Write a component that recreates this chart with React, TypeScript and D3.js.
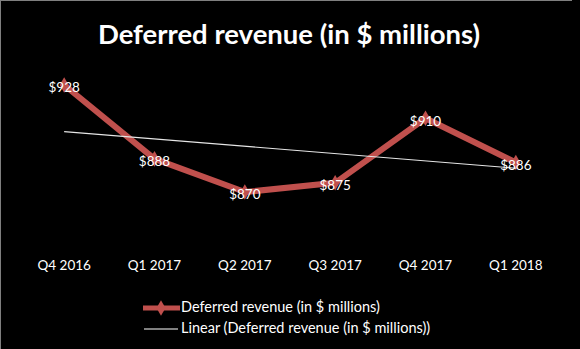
import React from "react";
import * as d3 from "d3";

const categories = ["Q4 2016", "Q1 2017", "Q2 2017", "Q3 2017", "Q4 2017", "Q1 2018"];
const values = [928, 888, 870, 875, 910, 886];
const labels = ["$928", "$888", "$870", "$875", "$910", "$886"];
const seriesName = "Deferred revenue (in $ millions)";
const trendName = "Linear (Deferred revenue (in $ millions))";
const title = "Deferred revenue (in $ millions)";

const W = 580;
const H = 349;
const FONT = "Lato, 'Open Sans', sans-serif";
const RED = "#C0504D";

export default function App() {
  const x = d3.scaleBand<string>().domain(categories).range([19, 561]);
  const y = d3.scaleLinear().domain([840, 940]).range([247.4, 62.9]);
  const cx = (c: string) => (x(c) as number) + x.bandwidth() / 2;

  const n = values.length;
  const xs = d3.range(n);
  const mx = d3.mean(xs) as number;
  const my = d3.mean(values) as number;
  const slope =
    d3.sum(xs.map((xi, i) => (xi - mx) * (values[i] - my))) /
    d3.sum(xs.map((xi) => (xi - mx) ** 2));
  const intercept = my - slope * mx;
  const trendPts: [number, number][] = [
    [cx(categories[0]), y(intercept)],
    [cx(categories[n - 1]), y(intercept + slope * (n - 1))],
  ];

  const line = d3
    .line<number>()
    .x((_, i) => cx(categories[i]))
    .y((d) => y(d));

  const diamond = d3.symbol(d3.symbolDiamond, 70)() as string;

  return (
    <svg
      width={W}
      height={H}
      style={{ position: "absolute", left: 0, top: 0, background: "#000" }}
    >
      <rect x={0} y={0} width={W} height={H} fill="#000" />
      <line x1={0.5} y1={0} x2={0.5} y2={H} stroke="#7f7f7f" />
      <line x1={0} y1={0.5} x2={572} y2={0.5} stroke="#7f7f7f" />
      <text
        x={289}
        y={44}
        textAnchor="middle"
        fill="#fff"
        fontFamily={FONT}
        fontWeight="bold"
        fontSize={27.5}
      >
        {title}
      </text>

      <path d={line(values) as string} fill="none" stroke={RED} strokeWidth={6} strokeLinejoin="round" />
      {values.map((v, i) => (
        <path key={i} d={diamond} transform={`translate(${cx(categories[i])},${y(v)})`} fill={RED} />
      ))}
      <line
        x1={trendPts[0][0]}
        y1={trendPts[0][1]}
        x2={trendPts[1][0]}
        y2={trendPts[1][1]}
        stroke="#e6e6e6"
        strokeWidth={1.2}
      />
      {values.map((v, i) => (
        <text
          key={i}
          x={cx(categories[i])}
          y={y(v) + 4}
          dominantBaseline="middle"
          textAnchor="middle"
          fill="#fff"
          fontFamily={FONT}
          fontSize={13.5}
        >
          {labels[i]}
        </text>
      ))}

      {categories.map((c) => (
        <text
          key={c}
          x={cx(c)}
          y={267}
          dominantBaseline="middle"
          textAnchor="middle"
          fill="#fff"
          fontFamily={FONT}
          fontSize={13.5}
        >
          {c}
        </text>
      ))}

      <g>
        <line x1={143} y1={308} x2={180} y2={308} stroke={RED} strokeWidth={5} />
        <path d={diamond} transform="translate(161,308)" fill={RED} />
        <text x={181} y={308} dominantBaseline="middle" fill="#fff" fontFamily={FONT} fontSize={14.5}>
          {seriesName}
        </text>
        <line x1={144} y1={329} x2={178} y2={329} stroke="#fff" strokeWidth={1.2} />
        <text x={181} y={329} dominantBaseline="middle" fill="#fff" fontFamily={FONT} fontSize={14.5}>
          {trendName}
        </text>
      </g>
    </svg>
  );
}
